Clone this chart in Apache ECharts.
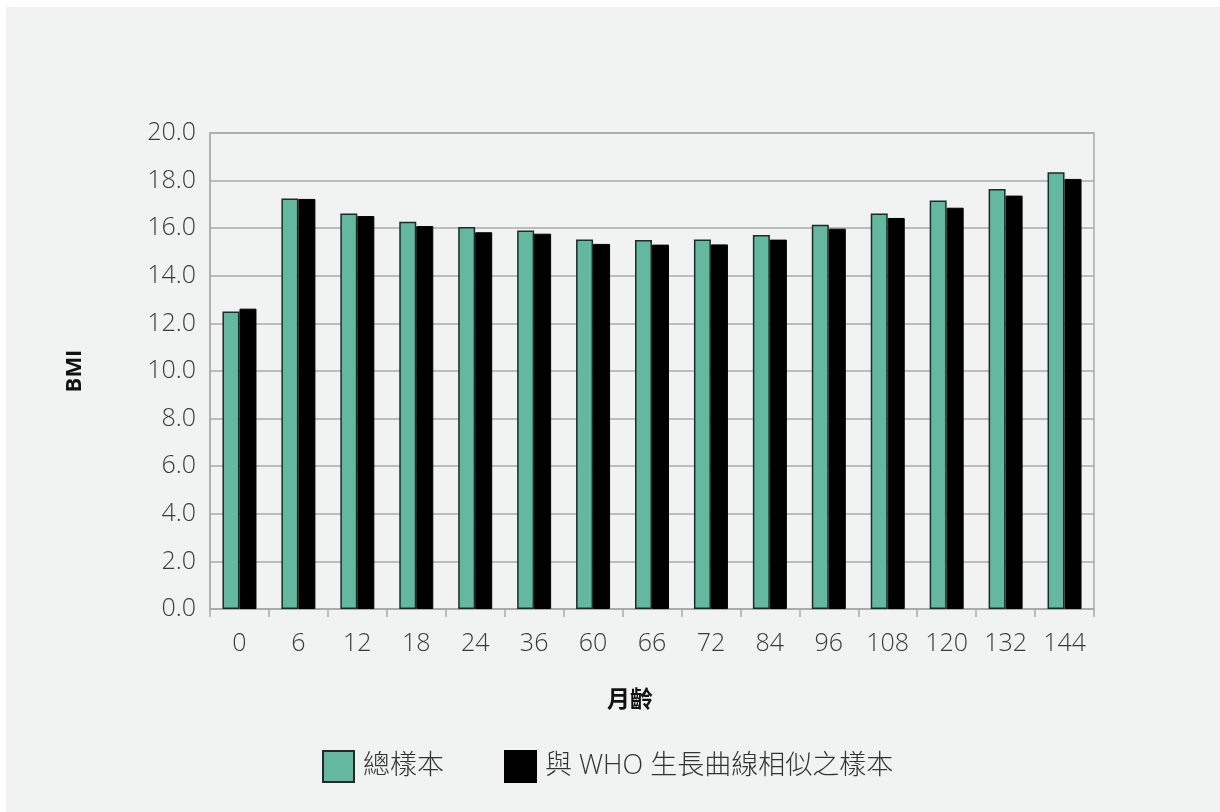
<!DOCTYPE html>
<html>
<head>
<meta charset="utf-8">
<script src="https://cdn.jsdelivr.net/npm/echarts@6/dist/echarts.min.js"></script>
<style>
  html, body { margin: 0; padding: 0; background: #ffffff; }
  #chart { position: absolute; left: 6px; top: 7px; width: 1214px; height: 805px; background: #f1f3f2; }
</style>
</head>
<body>
<div id="chart"></div>
<script>
// 月齡
const months = ["0", "6", "12", "18", "24", "36", "60", "66", "72", "84", "96", "108", "120", "132", "144"];
// 總樣本
const totalSample = [12.5, 17.25, 16.62, 16.27, 16.05, 15.9, 15.53, 15.5, 15.53, 15.71, 16.15, 16.62, 17.16, 17.65, 18.35];
// 與 WHO 生長曲線相似之樣本
const whoSample = [12.62, 17.23, 16.51, 16.09, 15.83, 15.77, 15.34, 15.31, 15.32, 15.52, 15.98, 16.43, 16.86, 17.37, 18.07];

const seriesNames = ["總樣本", "與 WHO 生長曲線相似之樣本"];

const chart = echarts.init(document.getElementById("chart"));
const labelFont = '"Open Sans", "Noto Sans CJK TC", sans-serif';

chart.setOption({
  animation: false,
  textStyle: { fontFamily: labelFont },
  grid: {
    left: 204, right: 126, top: 126, bottom: 203,
    show: true, borderColor: "#aaaaaa", borderWidth: 1.5, backgroundColor: "transparent"
  },
  legend: {
    bottom: 24,
    left: 311,
    icon: "rect",
    itemWidth: 31, itemHeight: 31,
    itemGap: 60,
    textStyle: { fontSize: 27, color: "#333", fontWeight: 300, fontFamily: labelFont, padding: [0, 0, 0, 4] },
    data: seriesNames
  },
  xAxis: {
    type: "category",
    data: months,
    name: "月齡",
    nameLocation: "middle",
    nameGap: 78,
    nameTextStyle: { fontSize: 23, fontWeight: "bold", color: "#111", fontFamily: '"Noto Sans CJK TC", sans-serif', padding: [0, 44, 0, 0] },
    axisLine: { lineStyle: { color: "#aaaaaa", width: 1.5 } },
    axisTick: { show: true, length: 8, lineStyle: { color: "#aaaaaa", width: 1.5 } },
    axisLabel: { fontSize: 25, color: "#3a3a3a", fontWeight: 300, margin: 22 }
  },
  yAxis: {
    type: "value",
    min: 0, max: 20, interval: 2,
    name: "BMI",
    nameLocation: "middle",
    nameGap: 124,
    nameRotate: 90,
    nameTextStyle: { fontSize: 22, fontWeight: "bold", color: "#111" },
    axisLine: { show: true, lineStyle: { color: "#aaaaaa", width: 1.5 } },
    axisTick: { show: false },
    splitLine: { lineStyle: { color: "#aaaaaa", width: 1.5 } },
    axisLabel: { fontSize: 25, color: "#3a3a3a", fontWeight: 300, margin: 14, formatter: v => v.toFixed(1) }
  },
  series: [
    {
      name: seriesNames[0],
      type: "bar",
      data: totalSample,
      barWidth: 17,
      barGap: "0%",
      itemStyle: { color: "#63b89f", borderColor: "#1e2b26", borderWidth: 1.5 }
    },
    {
      name: seriesNames[1],
      type: "bar",
      data: whoSample,
      barWidth: 17,
      itemStyle: { color: "#000000", borderColor: "#000000", borderWidth: 1 }
    }
  ]
});
</script>
</body>
</html>
